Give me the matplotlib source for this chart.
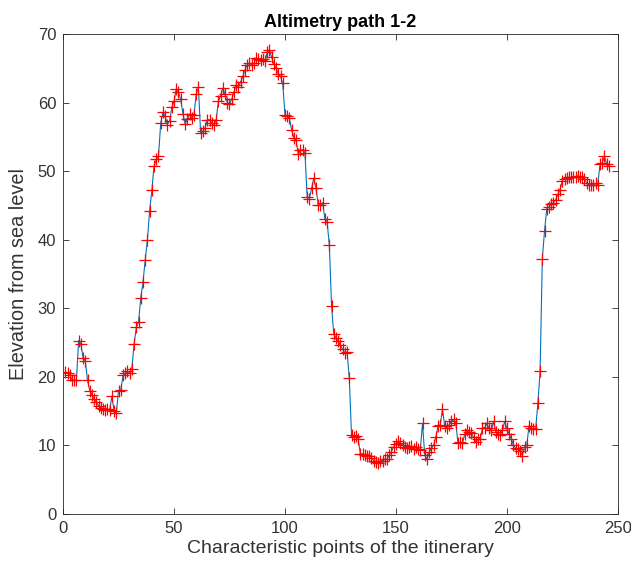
import matplotlib
matplotlib.use("Agg")
import matplotlib.pyplot as plt
import numpy as np

plt.rcParams['font.family'] = ['Liberation Sans', 'DejaVu Sans']

elevation = [
    20.7, 20.5, 20.3, 19.6, 19.5, 19.5, 25.3, 24.8, 22.8, 22.3,
    19.5, 18.0, 17.4, 16.8, 16.3, 15.8, 15.5, 15.3, 15.2, 15.3,
    15.2, 17.2, 15.0, 14.8, 18.0, 18.1, 20.2, 20.5, 20.8, 20.6,
    21.2, 24.8, 27.2, 28.0, 31.5, 33.8, 37.0, 40.0, 44.2, 47.2,
    50.8, 51.7, 52.2, 57.0, 58.6, 58.0, 56.8, 57.3, 59.3, 60.2,
    62.0, 61.5, 60.5, 58.4, 56.9, 57.6, 58.3, 57.8, 58.2, 61.3,
    62.2, 55.5, 55.8, 56.3, 57.5, 57.5, 57.0, 56.8, 57.5, 60.2,
    61.0, 62.1, 61.2, 60.0, 59.8, 60.5, 61.5, 62.6, 62.3, 63.0,
    63.8, 64.8, 65.5, 65.8, 65.5, 65.7, 66.5, 66.4, 66.2, 66.3,
    66.0, 67.3, 67.7, 66.6, 65.6, 65.0, 64.2, 63.8, 62.8, 58.2,
    58.0, 57.7, 56.0, 54.9, 54.5, 52.5, 53.1, 53.1, 52.7, 46.3,
    46.0, 47.5, 49.0, 47.5, 45.1, 45.0, 45.4, 43.0, 42.6, 39.2,
    30.4, 26.2, 25.7, 25.2, 24.6, 24.0, 23.5, 23.6, 19.8, 11.5,
    11.3, 11.4, 11.0, 8.7, 8.8, 8.6, 8.5, 8.5, 8.2, 7.8,
    7.6, 7.5, 7.7, 7.8, 8.0, 8.0, 8.6, 9.1, 9.8, 10.2,
    10.6, 10.3, 10.0, 9.8, 9.6, 9.8, 9.9, 9.5, 9.7, 9.5,
    9.4, 13.2, 8.6, 8.0, 9.0, 9.6, 10.0, 11.2, 12.8, 13.0,
    15.3, 12.8, 12.6, 13.0, 13.5, 13.8, 13.3, 10.3, 10.5, 10.3,
    11.6, 12.3, 12.0, 11.8, 11.2, 10.5, 10.9, 11.0, 12.5, 12.6,
    13.2, 12.5, 12.2, 13.5, 12.0, 11.7, 11.5, 12.2, 13.5, 12.5,
    11.7, 11.0, 10.0, 9.6, 9.5, 9.2, 8.5, 9.8, 10.0, 12.9,
    12.5, 12.4, 12.4, 16.2, 20.8, 37.2, 41.3, 44.5, 44.8, 45.2,
    45.4, 45.8, 46.6, 47.3, 48.6, 48.9, 49.0, 49.1, 49.1, 49.2,
    49.1, 49.3, 49.2, 49.1, 48.8, 48.3, 48.0, 48.0, 48.0, 48.2,
    48.0, 51.0, 51.2, 52.2, 51.0, 50.8,
]
points = np.arange(1, len(elevation) + 1)

x_ticks = [0, 50, 100, 150, 200, 250]
y_ticks = [0, 10, 20, 30, 40, 50, 60, 70]

fig = plt.figure(figsize=(6.31, 5.74), dpi=100)
ax = fig.add_axes([0.1, 0.1045, 0.879, 0.8363])
ax.plot(points, elevation, color=(0, 0.447, 0.741), linewidth=0.8, zorder=2)
ax.plot(points, elevation, linestyle='none', marker='+', color='red',
        markersize=9, markeredgewidth=0.9, zorder=3)

ax.set_xlim(0, 250)
ax.set_ylim(0, 70)
ax.set_xticks(x_ticks)
ax.set_yticks(y_ticks)
ax.tick_params(direction='in', top=True, right=True, length=4, width=0.6,
               labelsize=12, colors='#262626', labelcolor='#333333', pad=5)
for s in ax.spines.values():
    s.set_color('#262626')
    s.set_linewidth(0.6)
ax.set_title('Altimetry path 1-2', fontsize=13, fontweight='bold', pad=5)
ax.set_xlabel('Characteristic points of the itinerary', fontsize=14, color='#333333', labelpad=3)
ax.set_ylabel('Elevation from sea level', fontsize=14.3, color='#333333', labelpad=7)

fig.savefig('out.png', dpi=100)
